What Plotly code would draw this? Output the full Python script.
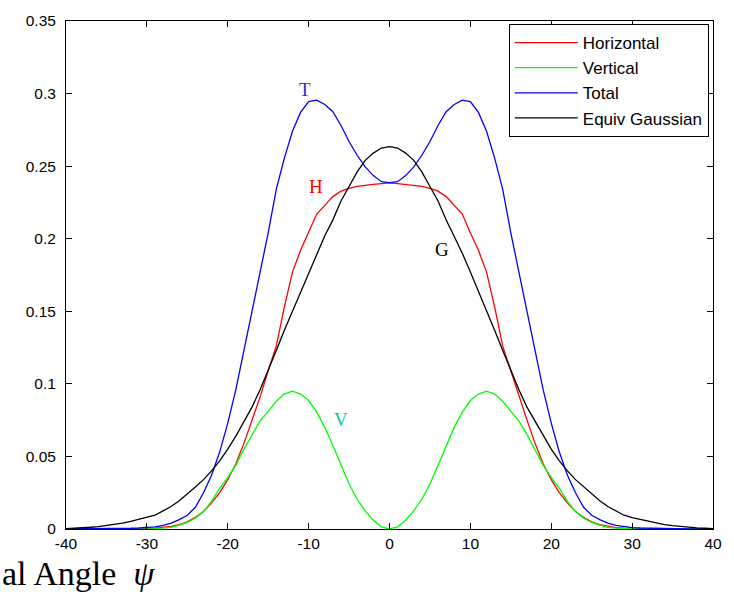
import plotly.graph_objects as go

# Angle (degrees)
angle = list(range(-40, 41))

horizontal = [0, 0, 0, 0, 0, 0, 0.0001, 0.0001, 0.0002, 0.0002,
              0.0003, 0.0006, 0.001, 0.0018, 0.003, 0.005, 0.008, 0.012, 0.018, 0.025,
              0.034, 0.045, 0.059, 0.075, 0.091, 0.109, 0.126, 0.153, 0.177, 0.192,
              0.204, 0.217, 0.223, 0.229, 0.2328, 0.2347, 0.236, 0.237, 0.2375, 0.238,
              0.2385,
              0.238, 0.2375, 0.237, 0.236, 0.2347, 0.2328, 0.229, 0.223, 0.217, 0.204,
              0.192, 0.177, 0.153, 0.126, 0.109, 0.091, 0.075, 0.059, 0.045, 0.034,
              0.025, 0.018, 0.012, 0.008, 0.005, 0.003, 0.0018, 0.001, 0.0006, 0.0003,
              0.0002, 0.0002, 0.0001, 0.0001, 0, 0, 0, 0, 0, 0]

vertical = [0, 0, 0, 0, 0, 0, 0, 0, 0, 0,
            0.0001, 0.0003, 0.0006, 0.0012, 0.0026, 0.0045, 0.0075, 0.012, 0.019, 0.028,
            0.0355, 0.044, 0.055, 0.065, 0.0745, 0.081, 0.088, 0.093, 0.095, 0.093,
            0.0885, 0.0805, 0.070, 0.0575, 0.044, 0.031, 0.0205, 0.0125, 0.006, 0.0015,
            0,
            0.0015, 0.006, 0.0125, 0.0205, 0.031, 0.044, 0.0575, 0.070, 0.0805, 0.0885,
            0.093, 0.095, 0.093, 0.088, 0.081, 0.0745, 0.065, 0.055, 0.044, 0.0355,
            0.028, 0.019, 0.012, 0.0075, 0.0045, 0.0026, 0.0012, 0.0006, 0.0003, 0.0001,
            0, 0, 0, 0, 0, 0, 0, 0, 0, 0]

total = [0, 0, 0, 0, 0, 0.0002, 0.0003, 0.0004, 0.0005, 0.0007,
         0.001, 0.0015, 0.0025, 0.004, 0.0065, 0.0095, 0.015, 0.025, 0.037, 0.053,
         0.073, 0.096, 0.123, 0.150, 0.177, 0.204, 0.234, 0.2555, 0.274, 0.287,
         0.2945, 0.2955, 0.2925, 0.2875, 0.278, 0.267, 0.2575, 0.2495, 0.2435, 0.2393,
         0.2386,
         0.2393, 0.2435, 0.2495, 0.2575, 0.267, 0.278, 0.2875, 0.2925, 0.2955, 0.2945,
         0.287, 0.274, 0.2555, 0.234, 0.204, 0.177, 0.150, 0.123, 0.096, 0.073,
         0.053, 0.037, 0.025, 0.015, 0.0095, 0.0065, 0.004, 0.0025, 0.0015, 0.001,
         0.0007, 0.0005, 0.0004, 0.0003, 0.0002, 0, 0, 0, 0, 0]

gaussian = [0.0003, 0.0005, 0.0008, 0.0012, 0.0017, 0.0023, 0.003, 0.004, 0.0052, 0.0065,
            0.0078, 0.0095, 0.0125, 0.0155, 0.0195, 0.024, 0.029, 0.034, 0.040, 0.047,
            0.055, 0.064, 0.074, 0.084, 0.096, 0.109, 0.123, 0.137, 0.150, 0.164,
            0.177, 0.190, 0.202, 0.213, 0.226, 0.236, 0.246, 0.254, 0.259, 0.2625,
            0.2635,
            0.2625, 0.259, 0.254, 0.246, 0.236, 0.226, 0.213, 0.202, 0.190, 0.177,
            0.164, 0.150, 0.137, 0.123, 0.109, 0.096, 0.084, 0.074, 0.064, 0.055,
            0.047, 0.040, 0.034, 0.029, 0.024, 0.0195, 0.0155, 0.0125, 0.0095, 0.0078,
            0.0065, 0.0052, 0.004, 0.003, 0.0023, 0.0017, 0.0012, 0.0008, 0.0005, 0.0003]

series_names = ["Horizontal", "Vertical", "Total", "Equiv Gaussian"]
series_colors = ["#FF0000", "#00FF00", "#0000FF", "#000000"]

x_ticks = [-40, -30, -20, -10, 0, 10, 20, 30, 40]
x_ticktext = ["-40", "-30", "-20", "-10", "0", "10", "20", "30", "40"]
y_ticks = [0, 0.05, 0.1, 0.15, 0.2, 0.25, 0.3, 0.35]
y_ticktext = ["0", "0.05", "0.1", "0.15", "0.2", "0.25", "0.3", "0.35"]

# curve labels: text, x, y, color
curve_labels = [("T", -10.4, 0.303, "#2B2BC8"),
                ("H", -9.15, 0.236, "#FF0000"),
                ("G", 6.45, 0.1925, "#000000"),
                ("V", -6.05, 0.0755, "#10C8A0")]

fig = go.Figure()
for name, col, ys in zip(series_names, series_colors, [horizontal, vertical, total, gaussian]):
    fig.add_trace(go.Scatter(x=angle, y=ys, mode="lines", name=name,
                             line=dict(color=col, width=1.3)))

for txt, lx, ly, col in curve_labels:
    fig.add_annotation(x=lx, y=ly, text=txt, showarrow=False,
                       font=dict(family="Liberation Serif, Times New Roman, serif", size=19, color=col))

fig.add_annotation(xref="paper", yref="paper", x=-0.1015, y=-0.088,
                   xanchor="left", yanchor="middle", showarrow=False,
                   text="al Angle\u00a0\u00a0<i>\u03c8</i>",
                   font=dict(family="Liberation Serif, Times New Roman, serif", size=34, color="black"))

axis_common = dict(showline=True, linecolor="black", linewidth=1, mirror="ticks",
                   ticks="inside", ticklen=6, tickcolor="black", showgrid=False, zeroline=False,
                   tickfont=dict(family="Liberation Sans, Arial, sans-serif", size=15.5, color="black"))

fig.update_xaxes(range=[-40, 40], tickvals=x_ticks, ticktext=x_ticktext, **axis_common)
fig.update_yaxes(range=[0, 0.35], tickvals=y_ticks, ticktext=y_ticktext, ticklabelstandoff=6, **axis_common)

fig.update_layout(
    width=734, height=598,
    margin=dict(l=66, r=18, t=16, b=69),
    paper_bgcolor="white", plot_bgcolor="white",
    showlegend=True,
    legend=dict(x=0.9935, y=0.994, xanchor="right", yanchor="top",
                bgcolor="white", bordercolor="black", borderwidth=1,
                itemwidth=63,
                font=dict(family="Liberation Sans, Arial, sans-serif", size=17, color="black")),
)

fig.write_html("out.html", config={"displayModeBar": False})
